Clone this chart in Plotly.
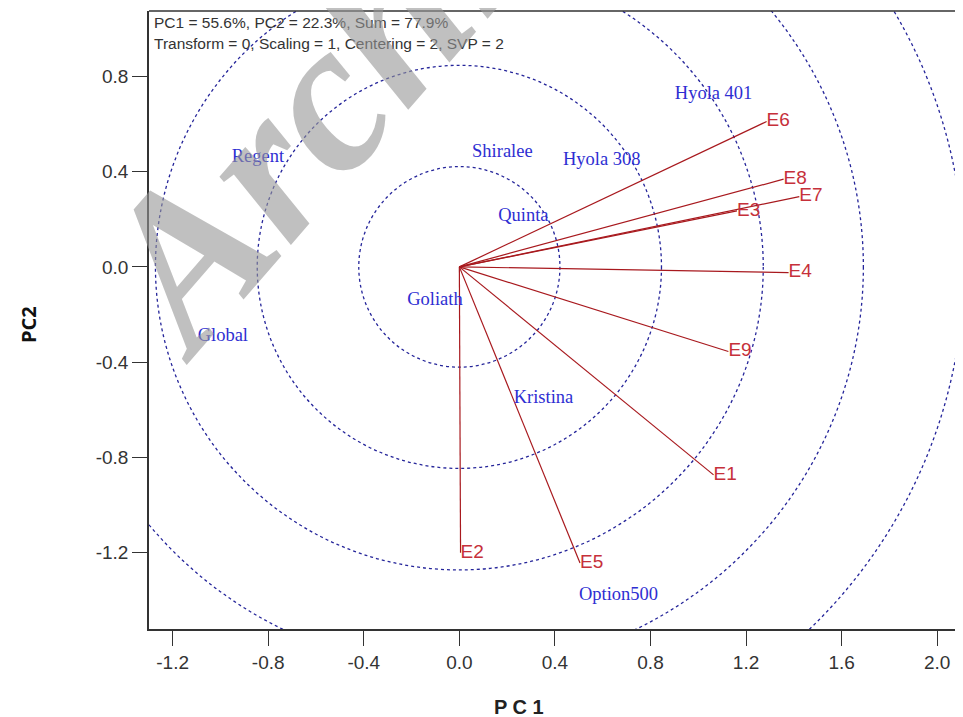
import plotly.graph_objects as go

# ---------------- data ----------------
env_names = ["E1", "E2", "E3", "E4", "E5", "E6", "E7", "E8", "E9"]
env_pc1 = [1.064, 0.005, 1.162, 1.378, 0.505, 1.286, 1.423, 1.357, 1.126]
env_pc2 = [-0.873, -1.200, 0.235, -0.024, -1.243, 0.610, 0.295, 0.368, -0.355]

geno_names = ["Hyola 401", "Hyola 308", "Shiralee", "Quinta", "Regent",
              "Goliath", "Global", "Kristina", "Option500"]
geno_pc1 = [1.064, 0.596, 0.180, 0.268, -0.843, -0.102, -0.990, 0.352, 0.666]
geno_pc2 = [0.722, 0.449, 0.479, 0.211, 0.460, -0.141, -0.292, -0.553, -1.379]

circle_radii = [0.421, 0.846, 1.272, 1.691, 2.112]

tick_vals_x = [-1.2, -0.8, -0.4, 0.0, 0.4, 0.8, 1.2, 1.6, 2.0]
tick_vals_y = [-1.2, -0.8, -0.4, 0.0, 0.4, 0.8]

info_lines = ["PC1 = 55.6%, PC2 = 22.3%, Sum = 77.9%",
              "Transform = 0, Scaling = 1, Centering = 2, SVP = 2"]

# ---------------- styles ----------------
SANS = "Liberation Sans, Arial, sans-serif"
SERIF = "Liberation Serif, Times New Roman, serif"
LINE_RED = "#A8191E"
TEXT_RED = "#C6303A"
GENO_BLUE = "#2E2ED2"
CIRCLE_BLUE = "#25259A"
AXIS_COL = "#333333"

# plot area in window pixels (page body has an 8px margin)
PL, PR, PT, PB = 149, 963, 11, 629
PW, PH = PR - PL, PB - PT

def px(xw):
    return (xw - PL) / PW

def py(yw):
    return (PB - yw) / PH

fig = go.Figure()

# environment vectors
vx, vy = [], []
for x, y in zip(env_pc1, env_pc2):
    vx += [0, x, None]
    vy += [0, y, None]
fig.add_trace(go.Scatter(x=vx, y=vy, mode="lines",
                         line=dict(color=LINE_RED, width=1.2),
                         hoverinfo="skip", showlegend=False))

# environment labels
fig.add_trace(go.Scatter(x=env_pc1, y=env_pc2, mode="text", text=env_names,
                         textposition="middle right",
                         textfont=dict(family=SANS, size=19, color=TEXT_RED),
                         showlegend=False))

# genotype labels
fig.add_trace(go.Scatter(x=geno_pc1, y=geno_pc2, mode="text", text=geno_names,
                         textposition="middle center",
                         textfont=dict(family=SERIF, size=18.5, color=GENO_BLUE),
                         showlegend=False))

# concentric circles
for r in circle_radii:
    fig.add_shape(type="circle", xref="x", yref="y", x0=-r, x1=r, y0=-r, y1=r,
                  line=dict(color=CIRCLE_BLUE, width=1.3, dash="3px,3px"),
                  layer="below")

# top frame line (plot continues past right edge)
fig.add_shape(type="line", xref="paper", yref="paper", x0=0, x1=1, y0=1, y1=1,
              line=dict(color=AXIS_COL, width=1.5))

# info text
for i, t in enumerate(info_lines):
    fig.add_annotation(xref="paper", yref="paper", x=px(152), y=py(22.7 + i * 20.6),
                       text=t, showarrow=False, xanchor="left", yanchor="middle",
                       font=dict(family=SANS, size=15.5, color="#333333"))

# axis titles
fig.add_annotation(xref="paper", yref="paper", x=px(519), y=py(707),
                   text="<b>P C 1</b>", showarrow=False, xanchor="center", yanchor="middle",
                   font=dict(family=SANS, size=20, color="#222222"))
fig.add_annotation(xref="paper", yref="paper", x=px(28), y=py(325),
                   text="<b>PC2</b>", showarrow=False, xanchor="center", yanchor="middle",
                   textangle=-90, font=dict(family="Open Sans, sans-serif", size=20, color="#111111"))

# watermark
fig.add_annotation(xref="paper", yref="paper", x=px(362), y=py(52),
                   text="<b><i>Archive</i></b>", showarrow=False, xanchor="center", yanchor="middle",
                   textangle=-49, font=dict(family=SERIF, size=215, color="rgba(150,150,150,0.6)"))

fig.update_layout(
    width=955, height=709,
    margin=dict(l=PL - 8, r=0, t=PT - 8, b=709 - (PB - 8)),
    paper_bgcolor="white", plot_bgcolor="white",
    showlegend=False,
    xaxis=dict(range=[-1.299, 2.108], tickvals=tick_vals_x,
               ticktext=[f"{v:.1f}" for v in tick_vals_x],
               ticks="outside", ticklen=15, tickwidth=1.3, tickcolor=AXIS_COL,
               showline=True, linecolor=AXIS_COL, linewidth=1.5,
               showgrid=False, zeroline=False,
               tickfont=dict(family=SANS, size=19, color="#333333")),
    yaxis=dict(range=[-1.520, 1.074], tickvals=tick_vals_y,
               ticktext=[f"{v:.1f}" for v in tick_vals_y],
               ticks="outside", ticklen=15, tickwidth=1.3, tickcolor=AXIS_COL,
               showline=True, linecolor=AXIS_COL, linewidth=1.5,
               showgrid=False, zeroline=False,
               tickfont=dict(family=SANS, size=19, color="#333333")),
)

fig.write_html("out.html")
